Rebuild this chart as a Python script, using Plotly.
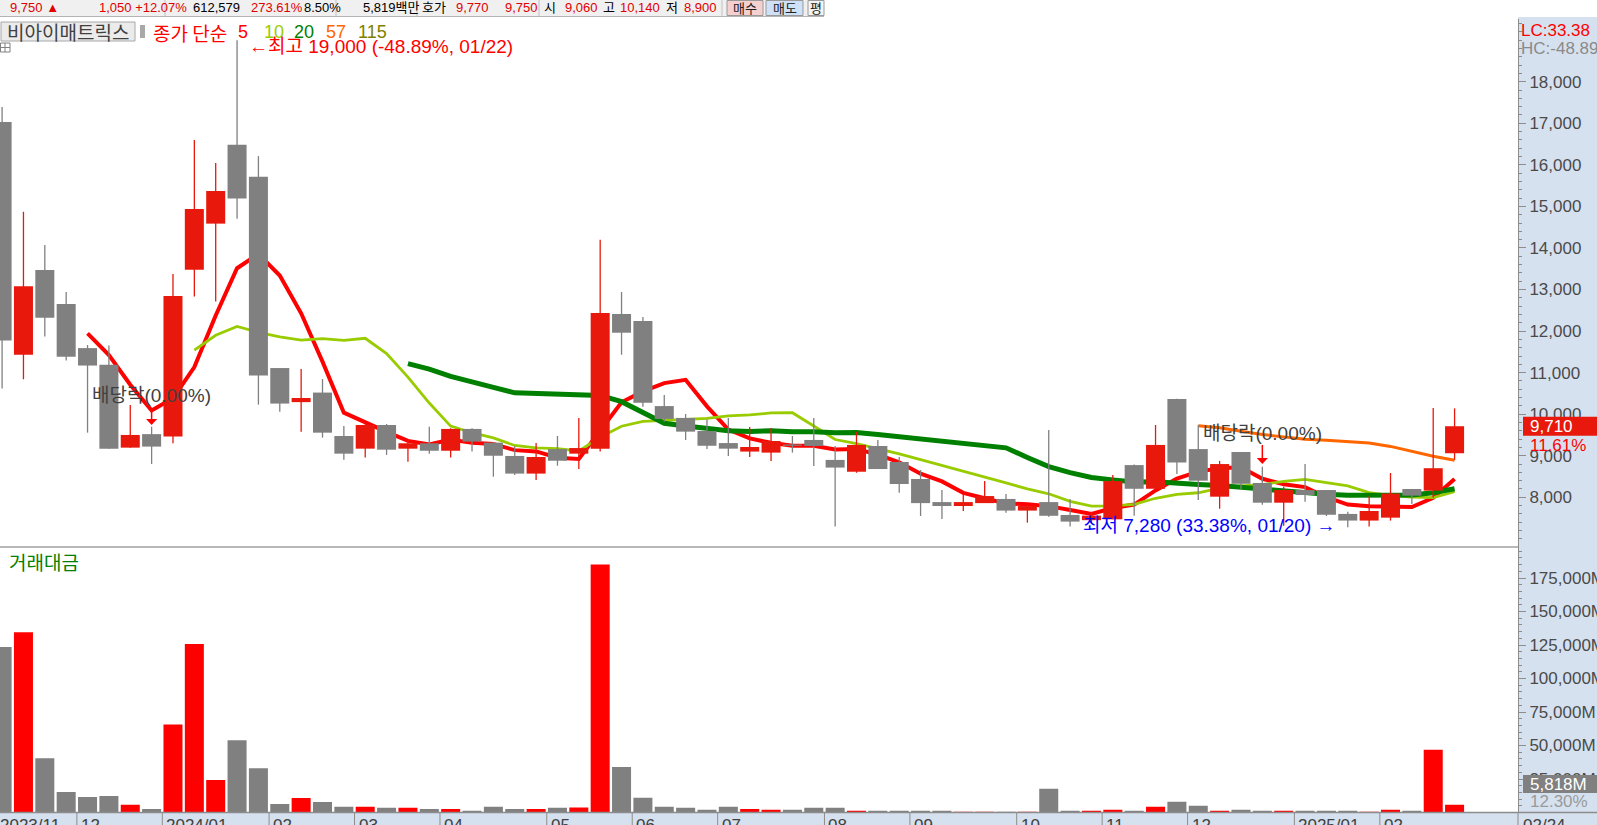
import plotly.graph_objects as go
import pandas as pd

W, H = 1597, 825

# ---------------- data (weekly, 2023-11-06 .. 2025-02-24) ----------------
opens = [17030, 11430, 13470, 12650, 11590, 11190, 9195, 9520, 9460, 13475,
         14585, 16480, 15710, 11110, 10290, 10520, 9475, 9170, 9740, 9170,
         9300, 9120, 9645, 9315, 8995, 8570, 9160, 9050, 9170, 12410,
         12240, 10195, 9910, 9595, 9305, 9100, 9075, 9270, 9380, 8900,
         8615, 9235, 8850, 8440, 7885, 7790, 7860, 7960, 7680, 7885,
         7575, 7450, 7470, 8775, 8205, 10365, 9160, 8015, 9090, 8345,
         7870, 8175, 8175, 7600, 7440, 7510, 8200, 8160, 9060]
highs = [17390, 14870, 14070, 12940, 11665, 11650, 10220, 9700, 13370, 16600,
         16045, 19000, 16210, 11110, 11085, 10845, 9715, 9760, 9765, 9380,
         9700, 9660, 9660, 9330, 9235, 9305, 9475, 9910, 14200, 12940,
         12340, 10460, 10005, 9875, 9910, 9690, 9665, 9475, 9910, 9235,
         9580, 9380, 8970, 8655, 8175, 8080, 8390, 8080, 7820, 9620,
         7960, 7650, 8535, 8790, 9740, 10370, 9740, 8875, 9090, 8735,
         8255, 8800, 8175, 7655, 8040, 8585, 8200, 10150, 10140]
lows = [10620, 10840, 11870, 11290, 9555, 9170, 9195, 8800, 9300, 12830,
        12710, 14700, 10230, 10060, 9580, 9435, 8905, 8955, 9020, 8855,
        9050, 8955, 9100, 8495, 8535, 8415, 8760, 8680, 9100, 11430,
        10180, 9820, 9380, 9160, 8995, 8970, 8875, 9075, 8755, 7300,
        8590, 8680, 8110, 7550, 7480, 7670, 7860, 7630, 7390, 7530,
        7295, 7380, 7470, 7555, 8205, 8560, 7935, 7725, 8175, 7820,
        7315, 7895, 7550, 7280, 7300, 7440, 7840, 7990, 8900]
closes = [11770, 13080, 12320, 11380, 11170, 9170, 9500, 9220, 12845, 14935,
          15370, 15190, 10930, 10255, 10390, 9555, 9050, 9740, 9145, 9300,
          9120, 9645, 9340, 9000, 8570, 8970, 8880, 9185, 12435, 11960,
          10275, 9885, 9580, 9240, 9170, 9210, 9355, 9240, 9235, 8715,
          9260, 8680, 8320, 7860, 7790, 7885, 8030, 7680, 7790, 7555,
          7415, 7560, 8390, 8205, 9260, 8835, 8400, 8800, 8325, 7870,
          8175, 8055, 7580, 7440, 7670, 8090, 8040, 8700, 9710]
# trading value, million KRW
volumes = [123500, 134600, 40500, 15300, 11600, 12400, 5700, 2700, 65700, 125700,
           24200, 53900, 33100, 6400, 10900, 7900, 4200, 4200, 3500, 3500,
           2700, 2700, 1300, 4200, 2700, 2700, 3500, 3700, 185000, 34000,
           11000, 4200, 3500, 2000, 4200, 2700, 2000, 2000, 3500, 3500,
           1300, 1300, 1300, 1300, 1300, 600, 600, 600, 600, 17700,
           1300, 1300, 2000, 1300, 4200, 8000, 5000, 1300, 2000, 1300,
           1300, 1300, 1300, 1300, 500, 2000, 1300, 46800, 5818]

ma_periods = [5, 10, 20, 57, 115]
ma_colors = ["#FF0000", "#99CC00", "#008000", "#FF6600", "#808000"]
ma_widths = [4, 2.8, 5, 3, 2]

month_labels = ["2023/11", "12", "2024/01", "02", "03", "04", "05", "06", "07",
                "08", "09", "10", "11", "12", "2025/01", "02"]
month_index = [0, 4, 8, 13, 17, 21, 26, 30, 34, 39, 43, 48, 52, 56, 61, 65]
last_date_label = "02/24"

price_ticks = [8000, 9000, 10000, 11000, 12000, 13000, 14000, 15000, 16000, 17000, 18000]
vol_ticks = [25000, 50000, 75000, 100000, 125000, 150000, 175000]

exdiv_index = [7, 59]
high_index, low_index = 11, 63

header_items = [
    ("9,750 ▲", "#E00000"), ("1,050 +12.07%", "#E00000"), ("612,579", "#000000"),
    ("273.61%", "#E00000"), ("8.50%", "#000000"), ("5,819백만", "#000000"),
    ("호가", "#000000"), ("9,770", "#E00000"), ("9,750", "#E00000"), ("시", "#000000"),
    ("9,060", "#E00000"), ("고", "#000000"), ("10,140", "#E00000"), ("저", "#000000"),
    ("8,900", "#E00000"),
]
header_x = [8, 97, 191, 249, 302, 361, 420, 454, 503, 542, 563, 601, 618, 664, 682]

# ---------------- helpers ----------------
def X(px):
    return px / W


def Y(py):
    return 1 - py / H


FONT = "Liberation Sans, Noto Sans CJK KR, sans-serif"
KFONT = "Noto Sans CJK KR, Liberation Sans, sans-serif"
RED_C = "#E8190C"
GRAY_C = "#808080"
PANEL = "#D6E1EF"

n = len(closes)
idx = list(range(n))
up = [c >= o for o, c in zip(opens, closes)]

PLOT_R = 1518
SLOT = 21.36
X0 = 2.1
x_range = [(0 - X0) / SLOT, (PLOT_R - X0) / SLOT]
price_range = [8000 - (547 - 497.3) / 0.04156, 8000 + (497.3 - 19) / 0.04156]
vol_range = [0, (812.5 - 547) / 1.34 * 1000]

fig = go.Figure()

# moving averages (drawn under candles)
s = pd.Series(closes, dtype=float)
for p, col, wd in zip(ma_periods, ma_colors, ma_widths):
    ma = s.rolling(p).mean()
    fig.add_trace(go.Scatter(x=idx, y=ma.tolist(), mode="lines",
                             line=dict(color=col, width=wd), yaxis="y",
                             hoverinfo="skip", connectgaps=False))

# volume bars
fig.add_trace(go.Bar(x=idx, y=volumes, yaxis="y2", width=0.89,
                     marker=dict(color=["#FF0000" if u else GRAY_C for u in up],
                                 line=dict(width=0)), hoverinfo="skip"))

# candle bodies (overlay axis so they sit above the MA lines)
fig.add_trace(go.Bar(x=idx, y=[max(abs(c - o), 25) for o, c in zip(opens, closes)],
                     base=[min(o, c) for o, c in zip(opens, closes)],
                     yaxis="y3", width=0.89,
                     marker=dict(color=[RED_C if u else GRAY_C for u in up],
                                 line=dict(width=0)), hoverinfo="skip"))

# wicks
for flag, col in [(True, RED_C), (False, GRAY_C)]:
    xs, ys = [], []
    for k in idx:
        if up[k] == flag:
            xs += [k, k, None]
            ys += [lows[k], highs[k], None]
    fig.add_trace(go.Scatter(x=xs, y=ys, mode="lines", yaxis="y3",
                             line=dict(color=col, width=1.3), hoverinfo="skip"))

axis_common = dict(side="right", anchor="x", showline=True, linecolor="#8C8C8C",
                   linewidth=1, ticks="outside", ticklen=7, tickwidth=1,
                   tickcolor="#8C8C8C", showgrid=False, zeroline=False,
                   automargin=False, fixedrange=True,
                   tickfont=dict(family=FONT, size=17, color="#4A4A4A"))

fig.update_layout(
    template="none",
    width=W, height=H,
    margin=dict(l=0, r=0, t=0, b=0),
    paper_bgcolor="white", plot_bgcolor="white",
    showlegend=False, barmode="overlay", hovermode=False,
    xaxis=dict(domain=[0, X(PLOT_R)], range=x_range, visible=False,
               fixedrange=True, anchor="y2"),
    yaxis=dict(domain=[Y(547), Y(19)], range=price_range, tickmode="array",
               tickvals=price_ticks, ticktext=[f"{v:,}" for v in price_ticks],
               minor=dict(dtick=200, tick0=0, ticks="outside", ticklen=3,
                          tickcolor="#8C8C8C", showgrid=False),
               **axis_common),
    yaxis2=dict(domain=[Y(812.5), Y(547)], range=vol_range, tickmode="array",
                tickvals=vol_ticks, ticktext=[f"{v:,}M" for v in vol_ticks],
                minor=dict(dtick=5000, tick0=0, ticks="outside", ticklen=3,
                           tickcolor="#8C8C8C", showgrid=False),
                **axis_common),
    yaxis3=dict(overlaying="y", range=price_range, visible=False, fixedrange=True,
                anchor="x", side="right"),
)

shapes = []
annots = []


def text(x, y, t, color, size=17, xanchor="left", yanchor="middle", xref="paper",
         yref="paper", family=FONT, **kw):
    annots.append(dict(x=x, y=y, xref=xref, yref=yref, text=t, showarrow=False,
                       xanchor=xanchor, yanchor=yanchor,
                       font=dict(family=family, size=size, color=color), **kw))


# right axis panel and date band backgrounds
shapes.append(dict(type="rect", xref="paper", yref="paper", x0=X(PLOT_R), x1=1,
                   y0=0, y1=Y(17), fillcolor=PANEL, line=dict(width=0), layer="below"))
shapes.append(dict(type="rect", xref="paper", yref="paper", x0=0, x1=1,
                   y0=0, y1=Y(812.5), fillcolor=PANEL, line=dict(width=0), layer="below"))
shapes.append(dict(type="line", xref="paper", yref="paper", x0=0, x1=1,
                   y0=Y(812.5), y1=Y(812.5), line=dict(color="#8C8C8C", width=1.5)))
shapes.append(dict(type="line", xref="paper", yref="paper", x0=X(PLOT_R), x1=X(PLOT_R),
                   y0=0, y1=Y(812.5), line=dict(color="#8C8C8C", width=1)))
# pane separator
shapes.append(dict(type="line", xref="paper", yref="paper", x0=0, x1=X(PLOT_R),
                   y0=Y(547), y1=Y(547), line=dict(color="#A0A0A0", width=1.5)))

# month separators + labels
for lab, k in zip(month_labels, month_index):
    sep_px = X0 + SLOT * (k - 0.5)
    if sep_px > 0:
        shapes.append(dict(type="line", xref="x", yref="paper", x0=k - 0.5, x1=k - 0.5,
                           y0=0, y1=Y(812.5), line=dict(color="#8C8C8C", width=1)))
    text(X(max(sep_px, -4)), Y(813.5), lab, "#404040", size=17, yanchor="top", xshift=2)
text(X(1521), Y(813.5), last_date_label, "#404040", size=17, yanchor="top")

# header bar
shapes.append(dict(type="rect", xref="paper", yref="paper", x0=0, x1=X(824),
                   y0=Y(16), y1=1, fillcolor="#F0F0F0", line=dict(width=0)))
shapes.append(dict(type="line", xref="paper", yref="paper", x0=0, x1=X(824),
                   y0=Y(16.5), y1=Y(16.5), line=dict(color="#B4B4B4", width=1)))
for sx in [165, 336, 417, 539, 722]:
    shapes.append(dict(type="line", xref="paper", yref="paper", x0=X(sx), x1=X(sx),
                       y0=Y(16), y1=1, line=dict(color="#C0C0C0", width=1)))
for (t, col), hx in zip(header_items, header_x):
    text(X(hx), Y(8), t, col, size=13)
for bx0, bx1, fill, lab in [(727, 763, "#F6CFCF", "매수"), (766, 803, "#CFE1F6", "매도"),
                            (808, 824, "#F4F4F4", "평")]:
    shapes.append(dict(type="rect", xref="paper", yref="paper", x0=X(bx0), x1=X(bx1),
                       y0=Y(15.5), y1=Y(0.5), fillcolor=fill,
                       line=dict(color="#9A9A9A", width=1)))
    text(X((bx0 + bx1) / 2), Y(8), lab, "#202020", size=13, xanchor="center",
         family=KFONT)

# title row
shapes.append(dict(type="rect", xref="paper", yref="paper", x0=X(1), x1=X(135),
                   y0=Y(41), y1=Y(22), fillcolor="#EBEBEB",
                   line=dict(color="#A8A8A8", width=1)))
text(X(68), Y(31.5), "비아이매트릭스", "#404040", size=19, xanchor="center", family=KFONT)
shapes.append(dict(type="rect", xref="paper", yref="paper", x0=X(140), x1=X(145),
                   y0=Y(38), y1=Y(25), fillcolor="#A8A8A8", line=dict(width=0)))
text(X(151), Y(32), "종가 단순", "#FF0000", size=19, family=KFONT)
for lab, col, lx in zip([str(p) for p in ma_periods], ma_colors, [236, 262, 292, 324, 356]):
    text(X(lx), Y(32), lab, col, size=18)

# small table icon
shapes.append(dict(type="rect", xref="paper", yref="paper", x0=X(0.5), x1=X(10),
                   y0=Y(52), y1=Y(43), fillcolor="white",
                   line=dict(color="#808080", width=1)))
shapes.append(dict(type="line", xref="paper", yref="paper", x0=X(0.5), x1=X(10),
                   y0=Y(47.5), y1=Y(47.5), line=dict(color="#808080", width=1)))
shapes.append(dict(type="line", xref="paper", yref="paper", x0=X(5), x1=X(5),
                   y0=Y(52), y1=Y(43), line=dict(color="#808080", width=1)))

# high / low labels
text(high_index + 0.45, Y(46.5), f"←최고 {max(highs):,} (-48.89%, 01/22)", "#FF0000",
     size=19, xref="x", family=FONT)
text(low_index - 0.45, Y(525), f"최저 {min(lows):,} (33.38%, 01/20) →", "#0000FF",
     size=19, xref="x", xanchor="right", family=FONT)

# ex-dividend markers
for k, ty, l0, l1, t0, t1 in zip(exdiv_index, [395, 434], [411, 445], [419, 458],
                                 [419, 458], [425, 464]):
    text(k, Y(ty), "배당락(0.00%)", "#404040", size=19, xref="x", xanchor="center")
    shapes.append(dict(type="line", xref="x", yref="paper", x0=k, x1=k,
                       y0=Y(l0), y1=Y(l1), line=dict(color="#FF0000", width=1.5)))
    shapes.append(dict(type="path", xref="x", yref="paper",
                       path=f"M {k - 0.26},{Y(t0)} L {k + 0.26},{Y(t0)} L {k},{Y(t1)} Z",
                       fillcolor="#FF0000", line=dict(width=0)))

# right panel labels
lc = (closes[-1] / min(lows) - 1) * 100
hc = (closes[-1] / max(highs) - 1) * 100
text(X(1519), Y(30), f"LC:{lc:.2f}", "#FF0000", size=17)
text(X(1519), Y(48.5), f"HC:{hc:.2f}", "#8A8A8A", size=17)

chg = (closes[-1] / closes[-2] - 1) * 100
shapes.append(dict(type="rect", xref="paper", yref="y", x0=X(1523), x1=1,
                   ysizemode="pixel", yanchor=closes[-1], y0=-9.5, y1=9.5,
                   fillcolor=RED_C, line=dict(width=0)))
text(X(1528), closes[-1], f"{closes[-1]:,}", "white", size=17, yref="y")
text(X(1528), closes[-1], f"{chg:.2f}%", "#FF0000", size=17, yref="y", yshift=-19)

shapes.append(dict(type="rect", xref="paper", yref="paper", x0=X(1523), x1=1,
                   y0=Y(793), y1=Y(775), fillcolor="#808080", line=dict(width=0)))
text(X(1528), Y(784), f"{volumes[-1]:,}M", "white", size=17)
text(X(1528), Y(801.5), "12.30%", "#9A9A9A", size=17)

# volume pane title
text(X(7), Y(561), "거래대금", "#008000", size=19, family=KFONT)

fig.update_layout(shapes=shapes, annotations=annots)

fig.write_html("out.html", config={"displayModeBar": False, "staticPlot": True},
               post_script="document.body.style.margin='0';document.body.style.overflow='hidden';")
